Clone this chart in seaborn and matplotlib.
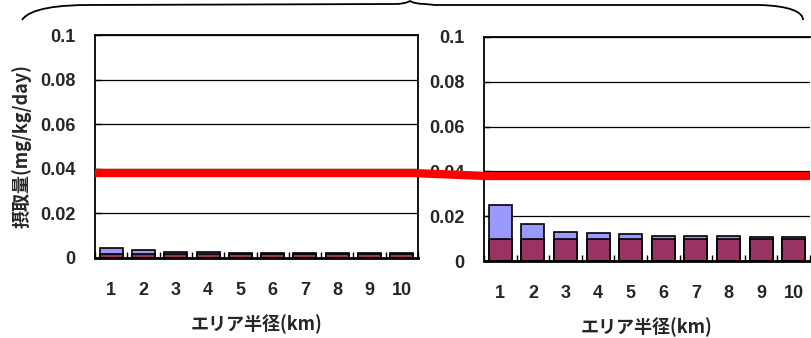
import seaborn as sns
import matplotlib.pyplot as plt
import pandas as pd
from matplotlib.patches import ConnectionPatch, PathPatch
from matplotlib.path import Path

# data
radius = [str(i) for i in range(1, 11)]
left_base = [0.002, 0.002, 0.002, 0.002, 0.002, 0.002, 0.002, 0.002, 0.002, 0.002]
left_total = [0.0046, 0.0035, 0.0027, 0.0027, 0.0021, 0.0021, 0.0021, 0.0021, 0.0021, 0.0021]
right_base = [0.010, 0.010, 0.010, 0.010, 0.010, 0.010, 0.010, 0.010, 0.010, 0.010]
right_total = [0.0249, 0.0164, 0.0131, 0.0125, 0.0119, 0.0113, 0.0113, 0.0113, 0.0106, 0.0106]
reference_level = 0.038
y_ticks = [0, 0.02, 0.04, 0.06, 0.08, 0.1]
y_ticklabels = ['0', '0.02', '0.04', '0.06', '0.08', '0.1']

sns.set_style('white')
plt.rcParams['font.family'] = ['Liberation Sans', 'Noto Sans CJK JP', 'DejaVu Sans']

BASE_COLOR = '#993366'
TOP_COLOR = '#9999FF'

fig = plt.figure(figsize=(8.11, 3.38), dpi=100)
ax_l = fig.add_axes([95 / 811, 1 - 258 / 338, 323 / 811, 223 / 338])
ax_r = fig.add_axes([484 / 811, 1 - 261 / 338, 326 / 811, 224 / 338])


def draw_panel(ax, base, total):
  df = pd.DataFrame({'radius': radius, 'base': base, 'total': total})
  sns.barplot(data=df, x='radius', y='total', color=TOP_COLOR, saturation=1,
              width=0.71, edgecolor='black', linewidth=1.2, ax=ax)
  sns.barplot(data=df, x='radius', y='base', color=BASE_COLOR, saturation=1,
              width=0.71, edgecolor='black', linewidth=1.2, ax=ax)
  ax.set_xlim(-0.5, 9.5)
  ax.set_ylim(0, 0.1)
  ax.set_yticks(y_ticks)
  ax.set_yticklabels(y_ticklabels)
  ax.set_xticks(range(10))
  ax.set_xticklabels(radius)
  ax.set_xticks([i - 0.5 for i in range(11)], minor=True)
  ax.tick_params(axis='x', which='major', length=0, pad=17, labelsize=13)
  ax.tick_params(axis='x', which='minor', direction='in', length=4,
                 width=1, color='black', bottom=True)
  ax.tick_params(axis='y', direction='in', length=4, width=1, color='black',
                 left=True, pad=14, labelsize=13)
  for lab in ax.get_xticklabels() + ax.get_yticklabels():
    lab.set_fontweight('bold')
  ax.yaxis.grid(True, color='black', linewidth=0.9)
  ax.set_axisbelow(True)
  for s in ax.spines.values():
    s.set_color('black')
    s.set_linewidth(1.3)
  ax.spines['bottom'].set_linewidth(2)
  ax.set_xlabel('エリア半径(km)', fontsize=13, fontweight='bold',
                family=['Noto Sans CJK JP'], labelpad=11)
  ax.set_ylabel('')
  ax.axhline(reference_level, color='#FF0000', linewidth=6, zorder=5,
             clip_on=False, solid_capstyle='butt')


draw_panel(ax_l, left_base, left_total)
draw_panel(ax_r, right_base, right_total)
ax_r.spines['right'].set_visible(False)

ax_l.set_ylabel('摂取量(mg/kg/day)', fontsize=13, fontweight='bold',
                family=['Noto Sans CJK JP'], labelpad=6)

# red line bridging the gap between panels
con = ConnectionPatch(xyA=(9.5, reference_level), coordsA=ax_l.transData,
                      xyB=(-0.5, reference_level), coordsB=ax_r.transData,
                      color='#FF0000', linewidth=6, zorder=5, capstyle='butt')
fig.add_artist(con)

# curly brace above both panels
W, H = 811.0, 338.0
pts = [(22, 20), (30, 8), (60, 5), (90, 5),
       (395, 4), (405, 4), (410, 1),
       (415, 4), (425, 4), (435, 5),
       (760, 5), (790, 6), (803, 12), (803, 20)]
verts = [(x / W, 1 - y / H) for x, y in pts]
codes = [Path.MOVETO, Path.CURVE4, Path.CURVE4, Path.CURVE4,
         Path.LINETO, Path.CURVE3, Path.CURVE3,
         Path.CURVE3, Path.CURVE3, Path.LINETO,
         Path.LINETO, Path.CURVE4, Path.CURVE4, Path.CURVE4]
brace = PathPatch(Path(verts, codes), transform=fig.transFigure,
                  facecolor='none', edgecolor='black', linewidth=1.3)
fig.add_artist(brace)

fig.savefig('out.png', dpi=100)
